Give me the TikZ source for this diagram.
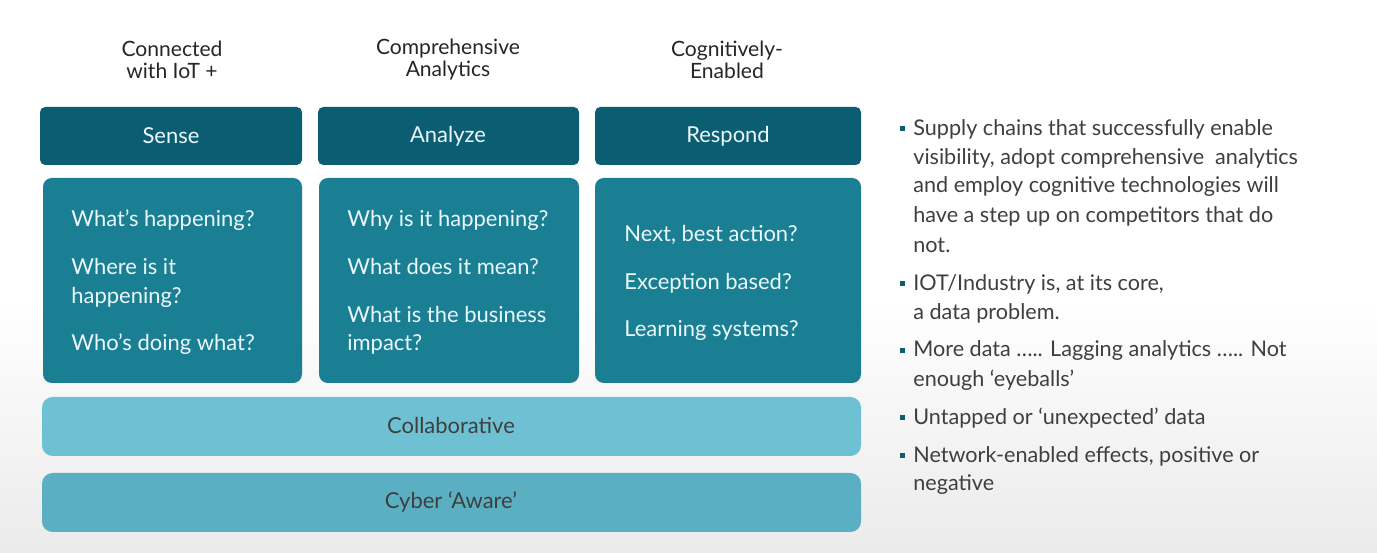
\documentclass[tikz,border=0pt]{standalone}
\usepackage{fontspec}
\setmainfont{Lato}
\definecolor{hdr}{HTML}{0B5E71}
\definecolor{bdy}{HTML}{1A7F93}
\definecolor{col}{HTML}{6DC1D3}
\definecolor{cyb}{HTML}{5BAFC3}
\definecolor{txt}{HTML}{3F3F3F}
\begin{document}
\begin{tikzpicture}[x=0.02cm,y=-0.02cm,
  hbox/.style={fill=hdr,rounded corners=3pt},
  bbox/.style={fill=bdy,rounded corners=5pt},
  ht/.style={text=white!92!cyan,font=\fontsize{12.5}{15}\selectfont},
  bt/.style={anchor=west,text=white!92!cyan,font=\fontsize{12.5}{15}\selectfont,inner sep=0pt},
  tt/.style={align=center,text=black!85,font=\fontsize{12}{12.5}\selectfont},
  rt/.style={anchor=west,text=txt,font=\fontsize{12.3}{15}\selectfont,inner sep=0pt}]
\shade[top color=white,bottom color=black!8] (0,300) rectangle (1377,553);
\fill[white] (0,0) rectangle (1377,300);
\useasboundingbox (0,0) rectangle (1377,553);
\node[tt] (t1) at (172,60) {Connected\\with IoT +};
\node[tt] (t2) at (448,60) {Comprehensive\\Analytics};
\node[tt] (t3) at (727,60) {Cognitively-\\Enabled};
\fill[hbox] (40,107) rectangle (302,165); \node[ht] (h1) at (171,136) {Sense};
\fill[hbox] (318,107) rectangle (579,165); \node[ht] (h2) at (448,136) {Analyze};
\fill[hbox] (595,107) rectangle (861,165); \node[ht] (h3) at (728,136) {Respond};
\fill[bbox] (43,178) rectangle (302,383);
\fill[bbox] (319,178) rectangle (579,383);
\fill[bbox] (595,178) rectangle (861,383);
\node[bt] (a1) at (71,220) {What’s happening?};
\node[bt] (a2) at (71,267) {Where is it};
\node[bt] (a3) at (71,297) {happening?};
\node[bt] (a4) at (71,344) {Who’s doing what?};
\node[bt] (b1) at (347,220) {Why is it happening?};
\node[bt] (b2) at (347,267) {What does it mean?};
\node[bt] (b3) at (347,315) {What is the business};
\node[bt] (b4) at (347,344) {impact?};
\node[bt] (c1) at (624,235) {Next, best action?};
\node[bt] (c2) at (624,283) {Exception based?};
\node[bt] (c3) at (624,330) {Learning systems?};
\fill[col,rounded corners=6pt] (42,397) rectangle (861,456);
\node[text=txt,font=\fontsize{12.5}{15}\selectfont] (cl) at (451,426) {Collaborative};
\fill[cyb,rounded corners=6pt] (42,473) rectangle (861,532);
\node[text=txt,font=\fontsize{12.5}{15}\selectfont] (cy) at (451,502) {Cyber ‘Aware’};
\foreach \y in {129,284,351,418,456}
  \fill[hdr] (900,\y-3) rectangle (905,\y+2);
\node[rt] (r1) at (913,129) {Supply chains that successfully enable};
\node[rt] (r2) at (913,158) {visibility, adopt comprehensive\ \ analytics};
\node[rt] (r3) at (913,187) {and employ cognitive technologies will};
\node[rt] (r4) at (913,216) {have a step up on competitors that do};
\node[rt] (r5) at (913,245) {not.};
\node[rt] (r6) at (913,284) {IOT/Industry is, at its core,};
\node[rt] (r7) at (913,313) {a data problem.};
\node[rt] (r8) at (913,351) {More data ….. Lagging analytics ….. Not};
\node[rt] (r9) at (913,380) {enough ‘eyeballs’};
\node[rt] (r10) at (913,418) {Untapped or ‘unexpected’ data};
\node[rt] (r11) at (913,456) {Network-enabled effects, positive or};
\node[rt] (r12) at (913,485) {negative};
\end{tikzpicture}
\end{document}
